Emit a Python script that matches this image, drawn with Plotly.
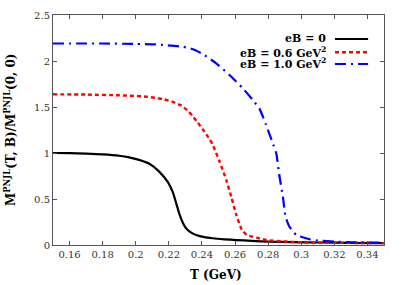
import plotly.graph_objects as go

T_eB0 = [0.15, 0.16, 0.17, 0.18, 0.19, 0.196, 0.202, 0.208, 0.214, 0.2195, 0.2225, 0.2245,
         0.2265, 0.2285, 0.2305, 0.2335, 0.2365, 0.2415, 0.2465, 0.2535, 0.2607, 0.27, 0.2808,
         0.295, 0.31, 0.33, 0.35]
M_eB0 = [1.0, 0.998, 0.993, 0.985, 0.97, 0.953, 0.925, 0.885, 0.80, 0.68, 0.57, 0.45,
         0.33, 0.24, 0.18, 0.135, 0.109, 0.085, 0.073, 0.062, 0.054, 0.045, 0.036,
         0.031, 0.027, 0.023, 0.02]

T_eB06 = [0.15, 0.17, 0.19, 0.196, 0.207, 0.217, 0.222, 0.227, 0.231, 0.2345, 0.2375, 0.2405,
          0.2435, 0.2462, 0.2506, 0.2547, 0.2577, 0.2607, 0.264, 0.267, 0.273, 0.2788, 0.29,
          0.30, 0.32, 0.35]
M_eB06 = [1.638, 1.635, 1.627, 1.623, 1.612, 1.583, 1.558, 1.52, 1.467, 1.40, 1.33, 1.257,
          1.18, 1.10, 0.91, 0.707, 0.525, 0.33, 0.17, 0.11, 0.08, 0.054, 0.038,
          0.029, 0.024, 0.02]

T_eB10 = [0.15, 0.18, 0.20, 0.212, 0.2284, 0.2345, 0.2405, 0.2486, 0.2566, 0.2647, 0.2707,
          0.2748, 0.2788, 0.2828, 0.2849, 0.2869, 0.2889, 0.2905, 0.2929, 0.297, 0.305, 0.311,
          0.32, 0.33, 0.35]
M_eB10 = [2.19, 2.19, 2.185, 2.18, 2.155, 2.127, 2.076, 1.975, 1.848, 1.703, 1.576,
          1.48, 1.304, 1.105, 0.997, 0.742, 0.525, 0.308, 0.199, 0.109, 0.062, 0.047,
          0.037, 0.03, 0.025]

labels = ["eB = 0", "eB = 0.6 GeV<sup>2</sup>", "eB = 1.0 GeV<sup>2</sup>"]
colors = ["#000000", "#ff0000", "#0000ff"]
dashes = ["solid", "4px,3px", "11px,5px,2px,5px"]
widths = [2.2, 2.4, 2.2]

x_ticks = [0.16, 0.18, 0.20, 0.22, 0.24, 0.26, 0.28, 0.30, 0.32, 0.34]
x_ticklabels = ["0.16", "0.18", "0.2", "0.22", "0.24", "0.26", "0.28", "0.3", "0.32", "0.34"]
y_ticks = [0, 0.5, 1, 1.5, 2, 2.5]
y_ticklabels = ["0", "0.5", "1", "1.5", "2", "2.5"]

font = "DejaVu Serif"
fig = go.Figure()
for T, M, c, d, w in zip([T_eB0, T_eB06, T_eB10], [M_eB0, M_eB06, M_eB10], colors, dashes, widths):
    fig.add_trace(go.Scatter(x=T, y=M, mode="lines",
                             line=dict(color=c, dash=d, width=w, shape="spline", smoothing=0.5),
                             showlegend=False, hoverinfo="skip"))

# manual legend (text right, sample line on right)
leg_y = [0.8957, 0.838, 0.787]
for lab, c, d, w, yy in zip(labels, colors, dashes, widths, leg_y):
    fig.add_annotation(x=0.83, y=yy, xref="paper", yref="paper", text="<b>" + lab + "</b>",
                       showarrow=False, xanchor="right", yanchor="middle",
                       font=dict(family=font, size=11, color="#000"))
    fig.add_shape(type="line", xref="paper", yref="paper", x0=0.852, x1=0.952, y0=yy, y1=yy,
                  line=dict(color=c, dash=d, width=w))

# axis titles
fig.add_annotation(x=0.493, y=-0.093, xref="paper", yref="paper", text="<b>T (GeV)</b>",
                   showarrow=False, xanchor="center", yanchor="top",
                   font=dict(family=font, size=12, color="#000"))
fig.add_annotation(x=-0.13, y=0.5, xref="paper", yref="paper",
                   text="<b>M<sup>PNJL</sup>(T, B)/M<sup>PNJL</sup>(0, 0)</b>",
                   showarrow=False, xanchor="center", yanchor="middle", textangle=-90,
                   font=dict(family=font, size=12, color="#000"))

axis_common = dict(showgrid=False, zeroline=False, showline=True, linecolor="#555",
                   linewidth=1, mirror="ticks", ticks="inside", ticklen=4, tickcolor="#555",
                   automargin=False,
                   tickfont=dict(family=font, size=10, color="#333"))
fig.update_xaxes(range=[0.15, 0.35], tickvals=x_ticks, ticktext=x_ticklabels, **axis_common)
fig.update_yaxes(range=[0, 2.5], tickvals=y_ticks, ticktext=y_ticklabels, **axis_common)
fig.update_layout(width=407, height=285, margin=dict(l=53, r=23, t=15, b=40),
                  plot_bgcolor="white", paper_bgcolor="white")
fig.write_html("out.html", config={"displayModeBar": False},
               post_script="document.body.style.margin='0px';document.body.style.overflow='hidden';")
